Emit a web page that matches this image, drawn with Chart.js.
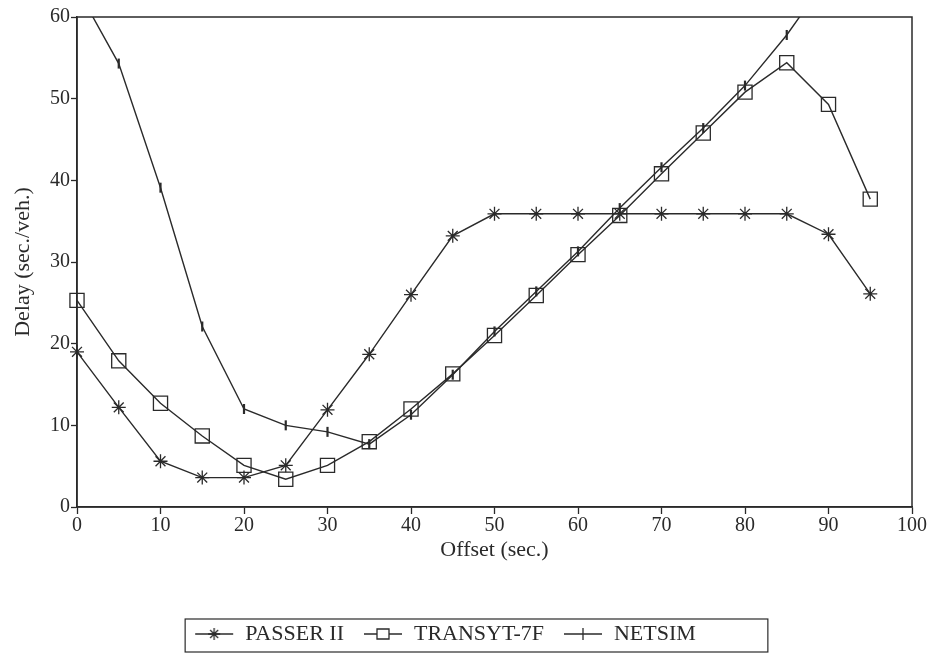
<!DOCTYPE html>
<html>
<head>
<meta charset="utf-8">
<script src="https://cdn.jsdelivr.net/npm/chart.js@4.4.1/dist/chart.umd.min.js"></script>
<style>
  body { margin: 0; background: #fff; }
  #wrap { width: 932px; height: 663px; }
</style>
</head>
<body>
<div id="wrap"><canvas id="myChart" width="932" height="663"></canvas></div>
<script>
// offsets (sec.)
const offsets = [0, 5, 10, 15, 20, 25, 30, 35, 40, 45, 50, 55, 60, 65, 70, 75, 80, 85, 90, 95];

// delay (sec./veh.) per model
const passer = [19, 12.2, 5.6, 3.6, 3.6, 5.1, 11.9, 18.7, 26, 33.2, 35.9, 35.9, 35.9, 35.9, 35.9, 35.9, 35.9, 35.9, 33.4, 26.1];
const transyt = [25.3, 17.9, 12.7, 8.7, 5.1, 3.4, 5.1, 8.0, 12.0, 16.3, 21.0, 25.9, 30.9, 35.7, 40.8, 45.8, 50.8, 54.4, 49.3, 37.7];
const netsim = [63.5, 54.3, 39.1, 22.1, 12.0, 10.0, 9.2, 7.7, 11.3, 16.2, 21.5, 26.4, 31.3, 36.6, 41.6, 46.4, 51.6, 57.8, 65];

const seriesNames = ['PASSER II', 'TRANSYT-7F', 'NETSIM'];
const xTicks = [0, 10, 20, 30, 40, 50, 60, 70, 80, 90, 100];
const yTicks = [0, 10, 20, 30, 40, 50, 60];

const ink = '#2a2a2a';
const serif = "'Liberation Serif', 'DejaVu Serif', serif";

function pts(values) {
  return values.map(function (v, i) { return { x: offsets[i], y: v }; });
}

// little legend sample: a line with the marker in the middle
function legendIcon(style) {
  const c = document.createElement('canvas');
  c.width = 40; c.height = 16;
  const g = c.getContext('2d');
  g.strokeStyle = ink;
  g.lineWidth = 1.3;
  g.beginPath(); g.moveTo(1, 8); g.lineTo(39, 8); g.stroke();
  g.beginPath();
  if (style == 'star') {
    g.moveTo(14, 8); g.lineTo(26, 8);
    g.moveTo(20, 2); g.lineTo(20, 14);
    g.moveTo(16, 4); g.lineTo(24, 12);
    g.moveTo(24, 4); g.lineTo(16, 12);
  } else if (style == 'rect') {
    g.fillStyle = '#fff';
    g.fillRect(14, 3, 12, 10);
    g.rect(14, 3, 12, 10);
  } else {
    g.moveTo(20, 2); g.lineTo(20, 14);
  }
  g.stroke();
  return c;
}

const icons = [legendIcon('star'), legendIcon('rect'), legendIcon('line')];

const data = {
  datasets: [{
    label: seriesNames[0],
    data: pts(passer),
    borderColor: ink,
    borderWidth: 1.4,
    pointStyle: 'star',
    pointRadius: 7,
    pointBorderColor: ink,
    pointBorderWidth: 1.3,
    pointBackgroundColor: ink,
    clip: false,
    tension: 0
  }, {
    label: seriesNames[1],
    data: pts(transyt),
    borderColor: ink,
    borderWidth: 1.4,
    pointStyle: 'rect',
    pointRadius: 10,
    pointBorderColor: ink,
    pointBorderWidth: 1.3,
    pointBackgroundColor: 'rgba(255,255,255,0)',
    clip: false,
    tension: 0
  }, {
    label: seriesNames[2],
    data: pts(netsim),
    borderColor: ink,
    borderWidth: 1.4,
    pointStyle: 'line',
    pointRotation: 90,
    pointRadius: 5,
    pointBorderColor: ink,
    pointBorderWidth: 2.2,
    tension: 0
  }]
};

// box around the plot and around the legend
const frames = {
  id: 'frames',
  beforeInit(chart) {
    const fit = chart.legend.fit;
    chart.legend.fit = function () {
      fit.bind(chart.legend)();
      this.height = 59;
    };
  },
  afterLayout(chart) {
    // legend sits a bit left of centre in the original
    chart.legend.right -= 22;
  },
  afterDraw(chart) {
    const ctx = chart.ctx;
    const a = chart.chartArea;
    ctx.save();
    ctx.strokeStyle = ink;
    ctx.lineWidth = 1.5;
    ctx.strokeRect(a.left, a.top, a.right - a.left, a.bottom - a.top);
    const boxes = chart.legend.legendHitBoxes;
    if (boxes && boxes.length) {
      const first = boxes[0];
      const last = boxes[boxes.length - 1];
      const l = first.left - 9;
      const r = last.left + last.width + 72;
      const t = first.top - 4;
      const b = first.top + first.height + 7;
      ctx.lineWidth = 1.2;
      ctx.strokeRect(l, t, r - l, b - t);
    }
    ctx.restore();
  }
};

const config = {
  type: 'line',
  data: data,
  plugins: [frames],
  options: {
    responsive: false,
    animation: false,
    layout: { padding: { top: 17, right: 20, left: 0, bottom: 0 } },
    plugins: {
      tooltip: { enabled: false },
      legend: {
        position: 'bottom',
        labels: {
          usePointStyle: true,
          pointStyleWidth: 40,
          padding: 19,
          color: ink,
          font: { family: serif, size: 22 },
          generateLabels: function (chart) {
            return seriesNames.map(function (n, i) {
              return { text: n, pointStyle: icons[i], datasetIndex: i, fontColor: ink, lineWidth: 0, strokeStyle: ink };
            });
          }
        }
      }
    },
    scales: {
      x: {
        type: 'linear',
        min: 0,
        max: 100,
        afterBuildTicks: function (s) { s.ticks = xTicks.map(function (v) { return { value: v }; }); },
        afterFit: function (s) { s.height = 97; },
        grid: { drawOnChartArea: false, color: ink, tickLength: 7, tickWidth: 1.3 },
        border: { color: ink, width: 1.5 },
        ticks: { color: ink, padding: 0, font: { family: serif, size: 20 } },
        title: {
          display: true,
          text: 'Offset (sec.)',
          color: ink,
          font: { family: serif, size: 22 },
          padding: { top: 0, bottom: 41 }
        }
      },
      y: {
        min: 0,
        max: 60,
        afterBuildTicks: function (s) { s.ticks = yTicks.map(function (v) { return { value: v }; }); },
        afterFit: function (s) { s.width = 77; },
        grid: { drawOnChartArea: false, color: ink, tickLength: 6, tickWidth: 1.3 },
        border: { color: ink, width: 1.5 },
        ticks: { color: ink, padding: 1, font: { family: serif, size: 20 } },
        title: {
          display: true,
          text: 'Delay (sec./veh.)',
          color: ink,
          font: { family: serif, size: 22 },
          padding: { top: 10, bottom: 0 }
        }
      }
    }
  }
};

const myChart = new Chart(document.getElementById('myChart'), config);
</script>
</body>
</html>
